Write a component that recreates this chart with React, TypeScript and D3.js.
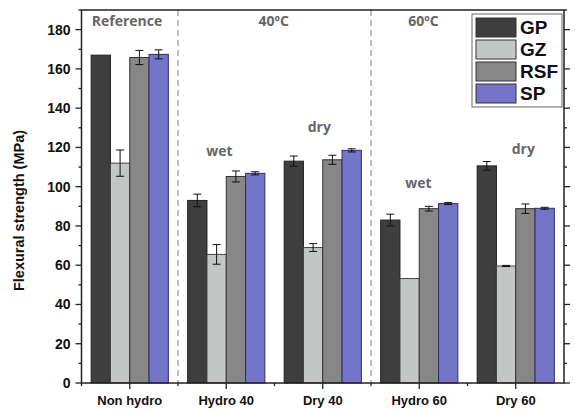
import React, { useEffect, useRef } from 'react';
import * as d3 from 'd3';

const categories = ['Non hydro', 'Hydro 40', 'Dry 40', 'Hydro 60', 'Dry 60'];
const seriesNames = ['GP', 'GZ', 'RSF', 'SP'];
const colors = ['#3e3e3e', '#c4c6c6', '#878787', '#7474c8'];
const strokes = ['#222222', '#444444', '#333333', '#2e2e70'];

// values per series, one per category
const gpValues = [167, 93, 113, 83, 110.6];
const gzValues = [112, 65.5, 69, 53.2, 59.6];
const rsfValues = [165.8, 105.2, 113.7, 88.8, 88.8];
const spValues = [167.4, 106.8, 118.5, 91.4, 89];

const gpErr = [0, 3.2, 2.6, 3, 2.2];
const gzErr = [6.7, 5, 2, 0, 0.3];
const rsfErr = [3.6, 2.8, 2.3, 1.2, 2.4];
const spErr = [2.3, 0.8, 0.8, 0.5, 0.5];

const yTicks = [0, 20, 40, 60, 80, 100, 120, 140, 160, 180];

const groupLabels = [
  { text: 'Reference', cat: 0, value: 182, dx: -38 },
  { text: '40ºC', cat: 1.5, value: 182, dx: -16 },
  { text: '60ºC', cat: 3, value: 182, dx: -11 },
  { text: 'wet', cat: 1, value: 115.5, dx: -20 },
  { text: 'dry', cat: 2, value: 128, dx: -15 },
  { text: 'wet', cat: 3, value: 99.5, dx: -14 },
  { text: 'dry', cat: 4, value: 116.5, dx: -4 },
];

const App = () => {
  const ref = useRef<SVGSVGElement>(null);

  useEffect(() => {
    const svg = d3.select(ref.current);
    svg.selectAll('*').remove();

    const left = 81.5;
    const right = 564;
    const top = 10;
    const bottom = 383;

    const values = [gpValues, gzValues, rsfValues, spValues];
    const errs = [gpErr, gzErr, rsfErr, spErr];

    const x = d3.scaleBand().domain(categories).range([left, right]).paddingInner(0).paddingOuter(0);
    const xs = d3.scaleBand().domain(seriesNames).range([0, x.bandwidth()]).paddingOuter(0.5).paddingInner(0);
    const y = d3.scaleLinear().domain([0, 190]).range([bottom, top]);
    const centerOf = (c: number) => left + x.bandwidth() * (c + 0.5);

    const font = '"Liberation Sans", Arial, sans-serif';

    // dashed separators
    [1, 3].forEach((i) => {
      const xv = left + x.bandwidth() * i;
      svg
        .append('line')
        .attr('x1', xv)
        .attr('x2', xv)
        .attr('y1', top)
        .attr('y2', bottom)
        .attr('stroke', '#aaaaaa')
        .attr('stroke-width', 1.5)
        .attr('stroke-dasharray', '6,4');
    });

    // bars
    const groups = svg
      .selectAll('g.cat')
      .data(categories)
      .enter()
      .append('g')
      .attr('transform', (d) => `translate(${x(d)},0)`);

    seriesNames.forEach((s, si) => {
      groups
        .append('rect')
        .attr('x', xs(s)!)
        .attr('width', xs.bandwidth())
        .attr('y', (_, i) => y(values[si][i]))
        .attr('height', (_, i) => bottom - y(values[si][i]))
        .attr('fill', colors[si])
        .attr('stroke', strokes[si])
        .attr('stroke-width', 1);

      // error bars
      groups.each(function (_, i) {
        const e = errs[si][i];
        if (e <= 0) return;
        const g = d3.select(this);
        const cx = xs(s)! + xs.bandwidth() / 2;
        const v = values[si][i];
        g.append('line')
          .attr('x1', cx).attr('x2', cx)
          .attr('y1', y(v + e)).attr('y2', y(v - e))
          .attr('stroke', '#111').attr('stroke-width', 1);
        [v + e, v - e].forEach((yy) => {
          g.append('line')
            .attr('x1', cx - 4).attr('x2', cx + 4)
            .attr('y1', y(yy)).attr('y2', y(yy))
            .attr('stroke', '#111').attr('stroke-width', 1);
        });
      });
    });

    // frame
    svg
      .append('rect')
      .attr('x', left)
      .attr('y', top)
      .attr('width', right - left)
      .attr('height', bottom - top)
      .attr('fill', 'none')
      .attr('stroke', '#222')
      .attr('stroke-width', 1.5);

    // y ticks left and right
    d3.range(0, 191, 10).forEach((v) => {
      const major = v % 20 === 0;
      svg.append('line')
        .attr('x1', left).attr('x2', left - (major ? 6 : 3))
        .attr('y1', y(v)).attr('y2', y(v))
        .attr('stroke', '#222').attr('stroke-width', 1.3);
      svg.append('line')
        .attr('x1', right).attr('x2', right + (major ? 6 : 3))
        .attr('y1', y(v)).attr('y2', y(v))
        .attr('stroke', '#222').attr('stroke-width', 1.3);
    });

    svg
      .selectAll('text.ytick')
      .data(yTicks)
      .enter()
      .append('text')
      .attr('x', left - 11)
      .attr('y', (d) => y(d) + 5)
      .attr('text-anchor', 'end')
      .attr('font-family', font)
      .attr('font-weight', 'bold')
      .attr('font-size', 14)
      .attr('fill', '#111')
      .text((d) => d);

    // x ticks
    categories.forEach((c, i) => {
      const cx = centerOf(i);
      svg.append('line')
        .attr('x1', cx).attr('x2', cx)
        .attr('y1', bottom).attr('y2', bottom + 6)
        .attr('stroke', '#222').attr('stroke-width', 1.3);
      const bx = left + x.bandwidth() * i;
      svg.append('line')
        .attr('x1', bx).attr('x2', bx)
        .attr('y1', bottom).attr('y2', bottom + 3)
        .attr('stroke', '#222').attr('stroke-width', 1.3);
      svg.append('text')
        .attr('x', cx)
        .attr('y', 405)
        .attr('text-anchor', 'middle')
        .attr('font-family', font)
        .attr('font-weight', 'bold')
        .attr('font-size', 13)
        .attr('fill', '#111')
        .text(c);
    });

    // y axis title
    svg
      .append('text')
      .attr('transform', `translate(24,${(top + bottom) / 2 + 14}) rotate(-90)`)
      .attr('text-anchor', 'middle')
      .attr('font-family', font)
      .attr('font-weight', 'bold')
      .attr('font-size', 14.5)
      .attr('fill', '#111')
      .text('Flexural strength (MPa)');

    // group annotations
    groupLabels.forEach((l) => {
      svg.append('text')
        .attr('x', centerOf(l.cat) + l.dx)
        .attr('y', y(l.value))
        .attr('font-family', '"Open Sans", sans-serif')
        .attr('font-weight', 'bold')
        .attr('font-size', 14)
        .attr('fill', '#666')
        .text(l.text);
    });

    // legend
    const lg = svg.append('g').attr('transform', 'translate(472,14)');
    lg.append('rect')
      .attr('width', 90)
      .attr('height', 93)
      .attr('fill', '#fff')
      .attr('stroke', '#666')
      .attr('stroke-width', 1);
    seriesNames.forEach((s, i) => {
      lg.append('rect')
        .attr('x', 4)
        .attr('y', 4 + i * 22)
        .attr('width', 40)
        .attr('height', 19)
        .attr('fill', colors[i])
        .attr('stroke', '#333')
        .attr('stroke-width', 1);
      lg.append('text')
        .attr('x', 48)
        .attr('y', 20 + i * 22)
        .attr('font-family', font)
        .attr('font-weight', 'bold')
        .attr('font-size', 19)
        .attr('fill', '#111')
        .text(s);
    });
  }, []);

  return <svg ref={ref} width={575} height={410} style={{ position: 'absolute', left: 0, top: 0 }} />;
};

export default App;
